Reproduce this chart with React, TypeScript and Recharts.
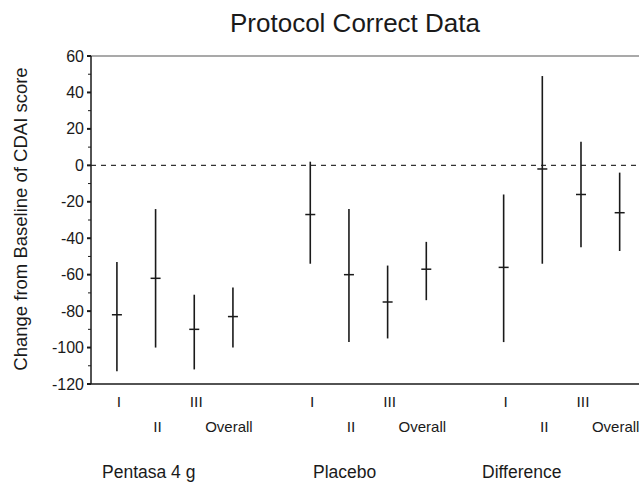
import React from "react";
import {
  ComposedChart,
  Scatter,
  ErrorBar,
  XAxis,
  YAxis,
  ReferenceLine,
  Customized,
} from "recharts";

// ---- data ----
const groups = ["Pentasa 4 g", "Placebo", "Difference"];
const subgroups = ["I", "II", "III", "Overall"];
const pentasaMean = [-82, -62, -90, -83];
const pentasaLow = [-113, -100, -112, -100];
const pentasaHigh = [-53, -24, -71, -67];
const placeboMean = [-27, -60, -75, -57];
const placeboLow = [-54, -97, -95, -74];
const placeboHigh = [2, -24, -55, -42];
const diffMean = [-56, -2, -16, -26];
const diffLow = [-97, -54, -45, -47];
const diffHigh = [-16, 49, 13, -4];
const yTicks = [60, 50, 40, 30, 20, 10, 0, -10, -20, -30, -40, -50, -60, -70, -80, -90, -100, -110, -120];

const W = 639;
const H = 484;
const M = { top: 56, right: 0, bottom: 40, left: 31 };
const Y_AXIS_W = 60;
const X_AXIS_H = 60;
const AX = M.left + Y_AXIS_W; // axis x
const AY = H - M.bottom - X_AXIS_H; // axis y
const FONT = "'Liberation Sans', Arial, Helvetica, sans-serif";
const INK = "#1a1a1a";

const series = [
  { mean: pentasaMean, low: pentasaLow, high: pentasaHigh },
  { mean: placeboMean, low: placeboLow, high: placeboHigh },
  { mean: diffMean, low: diffLow, high: diffHigh },
];

const data = series.flatMap((s, g) =>
  s.mean.map((m, j) => ({
    x: g * 5 + j,
    label: subgroups[j],
    row: j % 2,
    mean: m,
    err: [m - s.low[j], s.high[j] - m],
  }))
);
const xTicks = data.map((d) => d.x);

const YTick = (props: any) => {
  const { y, payload } = props;
  const v = payload.value;
  const major = v % 20 === 0;
  return (
    <g>
      <line
        x1={AX - (major ? 4 : 3)}
        x2={AX}
        y1={y}
        y2={y}
        stroke={INK}
        strokeWidth={major ? 2 : 1}
      />
      {major && (
        <text
          x={AX - 7}
          y={y}
          dy={5.5}
          textAnchor="end"
          fontSize={16}
          fontFamily={FONT}
          fill={INK}
        >
          {v}
        </text>
      )}
    </g>
  );
};

const XTick = (props: any) => {
  const { x, payload } = props;
  const d = data.find((e) => e.x === payload.value);
  if (!d) return null;
  const baseY = d.row === 0 ? AY + 23 : AY + 48;
  const isOverall = d.label === "Overall";
  return (
    <text
      x={x + (isOverall ? -4 : 2)}
      y={baseY}
      textAnchor="middle"
      fontSize={isOverall ? 15 : 15.5}
      fontFamily={FONT}
      fill={INK}
    >
      {d.label}
    </text>
  );
};

const MeanTick = (props: any) => {
  const { cx, cy } = props;
  return (
    <line x1={cx - 5} x2={cx + 5} y1={cy} y2={cy} stroke={INK} strokeWidth={1.5} />
  );
};

const groupLabelX = [102, 313, 482];

const Texts = () => (
  <g fontFamily={FONT} fill={INK}>
    <text x={355} y={32} textAnchor="middle" fontSize={26}>
      Protocol Correct Data
    </text>
    <text
      x={27}
      y={219}
      textAnchor="middle"
      fontSize={18.5}
      transform="rotate(-90, 27, 219)"
    >
      Change from Baseline of CDAI score
    </text>
    {groups.map((g, i) => (
      <text key={g} x={groupLabelX[i]} y={478} fontSize={17.5}>
        {g}
      </text>
    ))}
  </g>
);

export default function App() {
  return (
    <div
      style={{
        position: "absolute",
        left: 0,
        top: 0,
        width: W,
        height: H,
        background: "#fff",
      }}
    >
      <ComposedChart width={W} height={H} data={data} margin={M}>
        <XAxis
          type="number"
          dataKey="x"
          domain={[-0.67, 13.5]}
          ticks={xTicks}
          interval={0}
          allowDataOverflow
          height={X_AXIS_H}
          tickLine={false}
          axisLine={{ stroke: INK, strokeWidth: 1.5 }}
          tick={<XTick />}
        />
        <YAxis
          type="number"
          dataKey="mean"
          domain={[-120, 60]}
          ticks={yTicks}
          interval={0}
          allowDataOverflow
          width={Y_AXIS_W}
          tickLine={false}
          axisLine={{ stroke: INK, strokeWidth: 1.5 }}
          tick={<YTick />}
        />
        <ReferenceLine y={60} stroke="#555" strokeWidth={1.2} ifOverflow="visible" />
        <ReferenceLine y={0} stroke="#333" strokeWidth={1.2} strokeDasharray="5 5" />
        <Scatter dataKey="mean" isAnimationActive={false} shape={<MeanTick />}>
          <ErrorBar
            dataKey="err"
            direction="y"
            width={0}
            stroke={INK}
            strokeWidth={1.6}
            isAnimationActive={false}
          />
        </Scatter>
        <Customized component={<Texts />} />
      </ComposedChart>
    </div>
  );
}
